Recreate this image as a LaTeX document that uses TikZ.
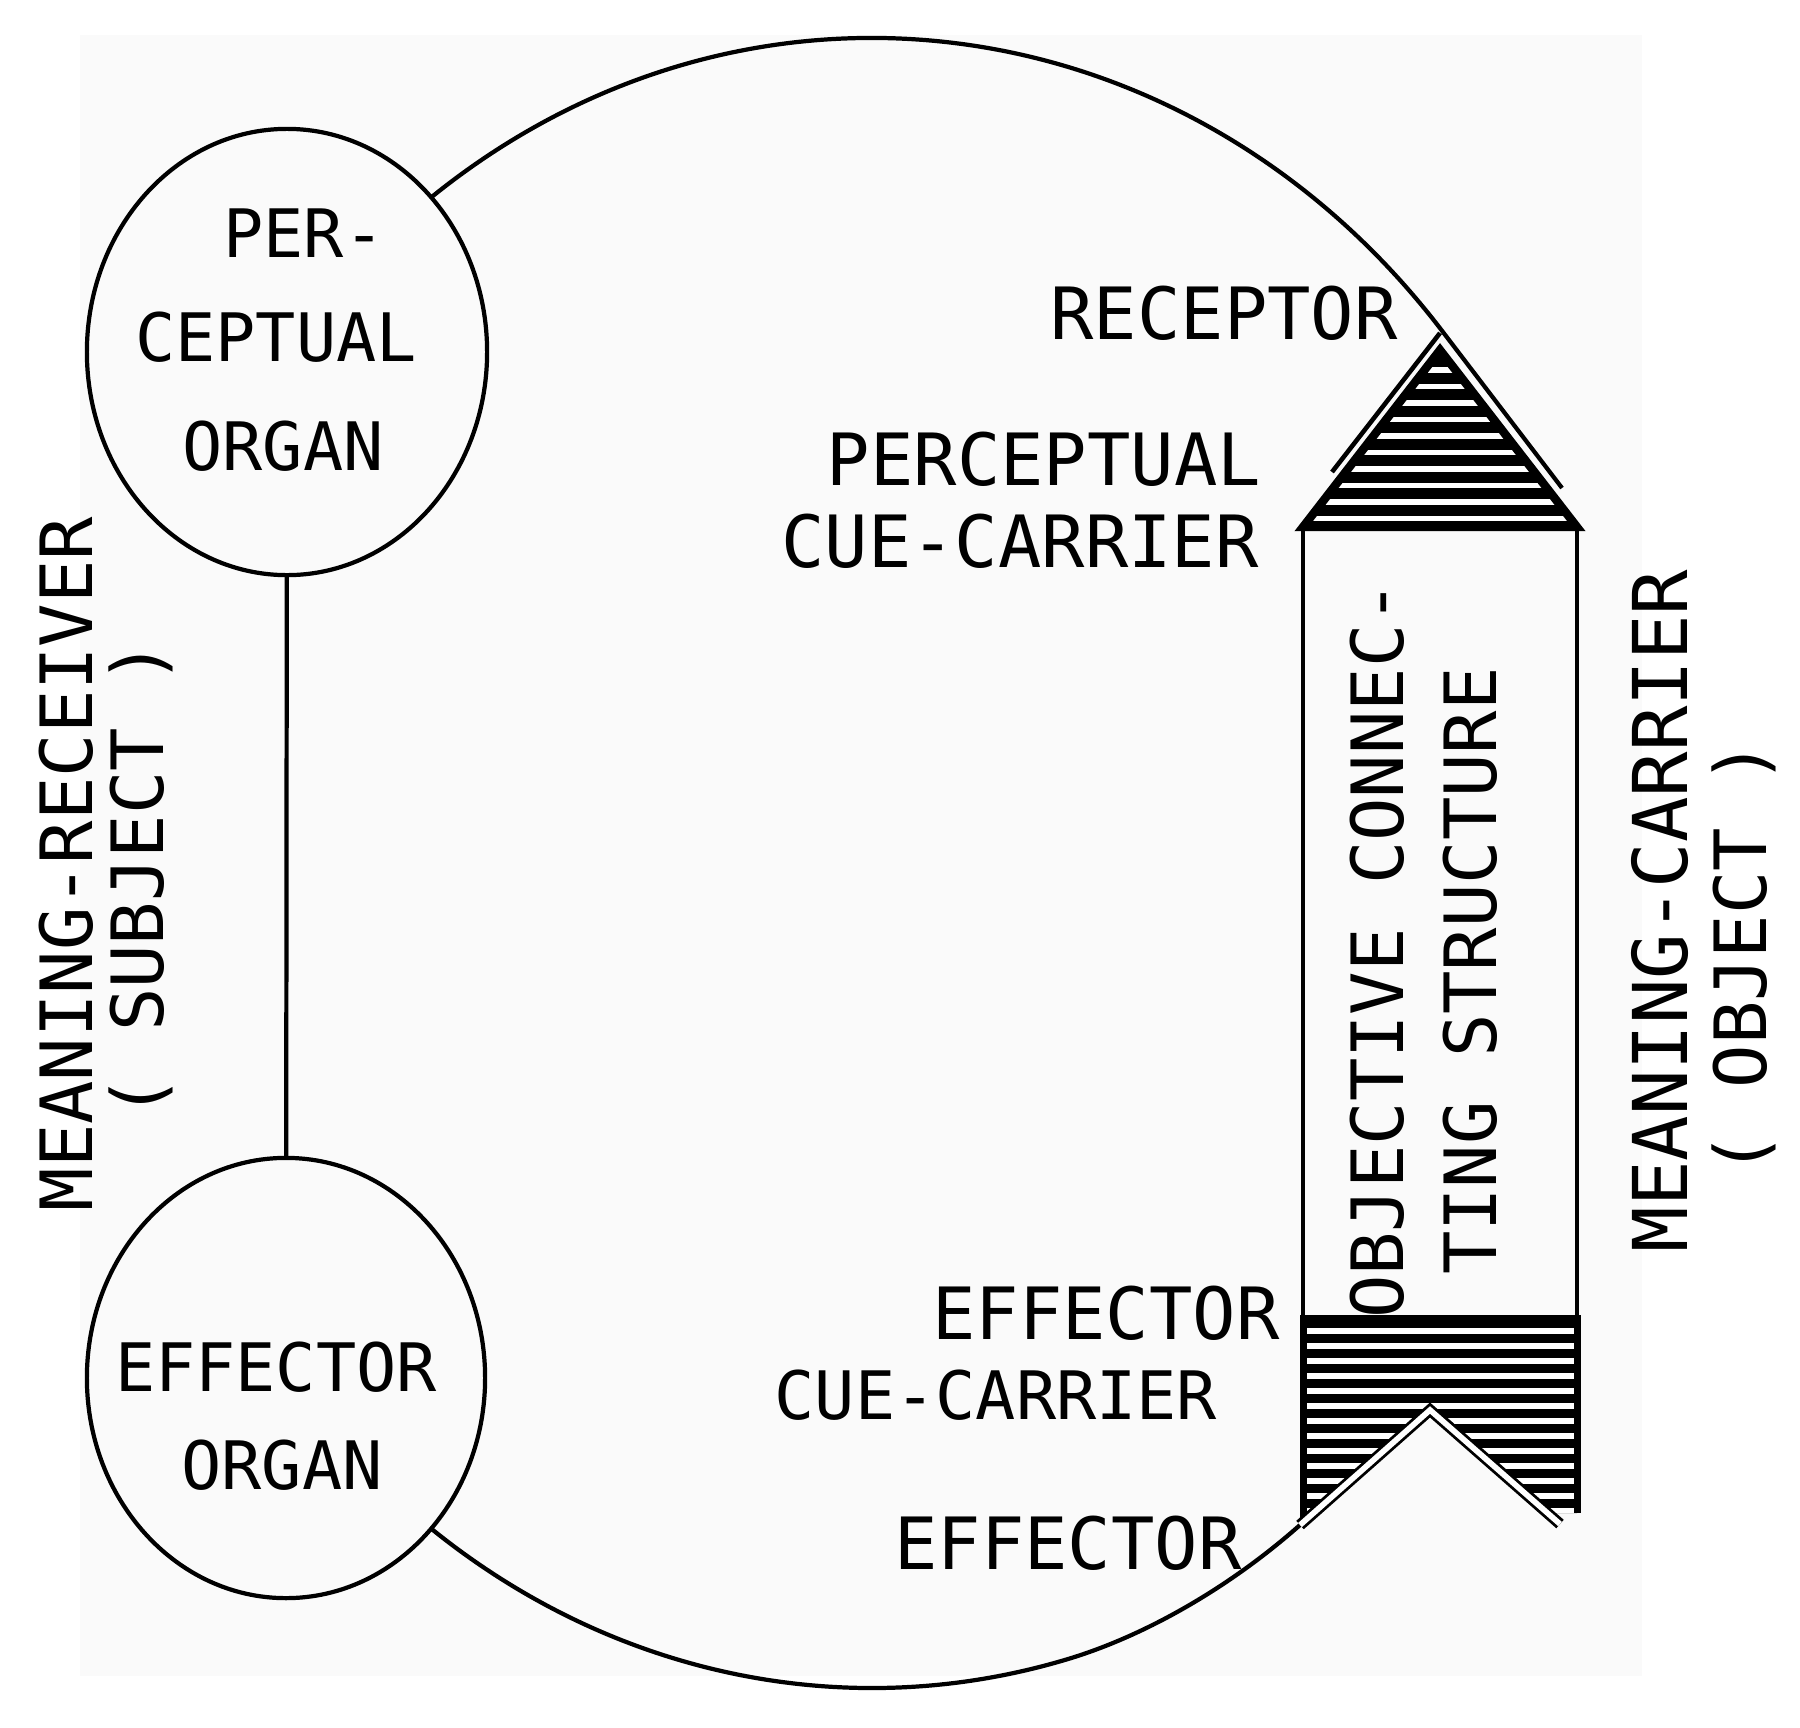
\documentclass[tikz,border=0pt]{standalone}
\usepackage{fontspec}
\setmainfont{DejaVu Sans Mono}
\usetikzlibrary{shapes.geometric}
\tikzset{
  organ/.style={ellipse, draw, line width=1.2pt, inner sep=0pt},
  lbl/.style={inner sep=0pt, font=\fontsize{20.5}{24}\selectfont},
  lblsm/.style={inner sep=0pt, font=\fontsize{19}{22}\selectfont},
  lblbig/.style={inner sep=0pt, font=\fontsize{21.5}{25}\selectfont},
}
\begin{document}
\begin{tikzpicture}[x=0.01cm, y=-0.01cm, line width=1.2pt]
\useasboundingbox (0,0) rectangle (1800,1727);
\fill[black!2] (80,35) rectangle (1642,1676);
\node[organ, minimum width=4cm, minimum height=4.46cm] (percep) at (287,352) {};
\node[organ, minimum width=3.98cm, minimum height=4.4cm] (effect) at (286,1378) {};
\draw (percep) -- (effect);
\coordinate (loopa) at (431.4,197.2);
\coordinate (loopb) at (432.4,1529.6);
\coordinate (effr) at (1300,1525);
\draw (loopa) arc[start angle=-126.2, end angle=-40.2, x radius=746, y radius=825] -- (1562,488);
\draw (loopb) arc[start angle=126.1, end angle=75, x radius=746, y radius=825]
  .. controls (1145,1636.3) and (1230,1587) .. (effr);
\draw[line width=1.3pt] (1332,472) -- (1440,333);
% perceptual cue-carrier
\fill (1303,527) -- (1440,350) -- (1577,527) -- cycle;
\begin{scope}
\clip (1303,527) -- (1440,350) -- (1577,527) -- cycle;
\foreach \i in {0,...,9}
  \draw[white, line width=1.6pt] (1290,{370+16.5*\i}) -- (1590,{370+16.5*\i});
\end{scope}
\draw[line width=2.4pt] (1303,527) -- (1440,350) -- (1577,527) -- cycle;
\draw[line width=1.3pt] (1303,527) -- (1303,1318);
\draw[line width=1.3pt] (1577,527) -- (1577,1318);
% effector cue-carrier
\fill (1303,1318) -- (1577,1318) -- (1577,1513) -- (1547,1513) -- (1430,1410) -- (1303,1522) -- cycle;
\begin{scope}
\clip (1303,1318) -- (1577,1318) -- (1577,1513) -- (1547,1513) -- (1430,1410) -- (1303,1522) -- cycle;
\foreach \i in {0,...,12}
  \draw[white, line width=1.5pt] (1290,{1331+15*\i}) -- (1590,{1331+15*\i});
\end{scope}
\draw[line width=2pt] (1303,1522) -- (1303,1318) -- (1577,1318) -- (1577,1513);
\draw[double=white, double distance=1.6pt, line width=0.8pt] (effr) -- (1430,1410) -- (1560,1524);
\node[lblsm] (per) at (304,233) {PER-};
\node[lblsm] (ceptual) at (276,337) {CEPTUAL};
\node[lblsm] (organa) at (283,446) {ORGAN};
\node[lblsm] (effector) at (276,1367) {EFFECTOR};
\node[lblsm] (organb) at (282,1465) {ORGAN};
\node[lbl] (receptor) at (1224,313) {RECEPTOR};
\node[lbl] (pcuea) at (1044,459) {PERCEPTUAL};
\node[lbl] (pcueb) at (1020,541) {CUE-CARRIER};
\node[lbl] (ecuea) at (1106,1313) {EFFECTOR};
\node[lblsm] (ecueb) at (996,1395) {CUE-CARRIER};
\node[lbl] (effectr) at (1068,1543) {EFFECTOR};
\node[lbl, rotate=90] (receiver) at (66,864) {MEANING-RECEIVER};
\node[lbl, rotate=90] (subject) at (141,880) {( SUBJECT )};
\node[lblbig, rotate=90] (carrier) at (1660,911) {MEANING-CARRIER};
\node[lbl, rotate=90] (object) at (1744,958) {( OBJECT )};
\node[lbl, rotate=90] (objconna) at (1377,950) {OBJECTIVE CONNEC-};
\node[lbl, rotate=90] (objconnb) at (1470,971) {TING STRUCTURE};
\end{tikzpicture}
\end{document}
